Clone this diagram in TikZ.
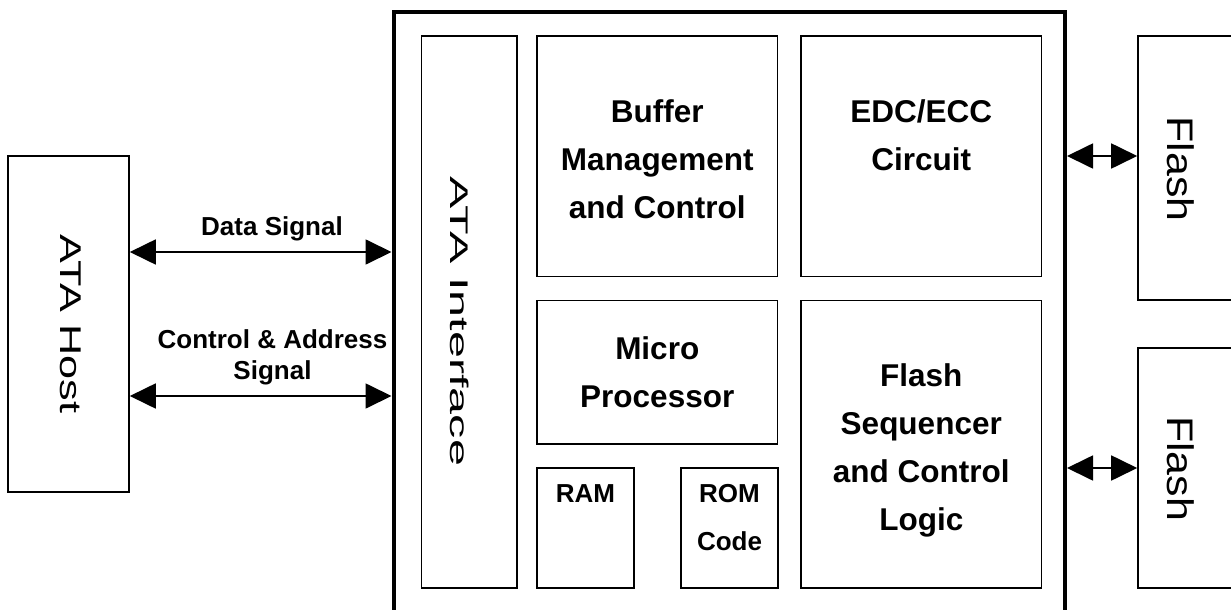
\documentclass[tikz,border=0pt]{standalone}
\usepackage{fontspec}
\usepackage{graphicx}
\setmainfont{Liberation Sans}
\usetikzlibrary{arrows.meta,positioning}

\newcommand\blocktextstyle{\fontsize{31.5}{48}\selectfont\bfseries}
\newcommand\memtextstyle{\fontsize{26}{48}\selectfont\bfseries}
\newcommand\signaltextstyle{\fontsize{26}{31}\selectfont\bfseries}
\newcommand\sidetext[2]{\scalebox{#1}[1]{#2}}

\tikzset{
  blockbox/.style={draw, line width=1.6pt, inner sep=0pt},
  chipbox/.style={draw, line width=4pt, inner sep=0pt},
  blocktext/.style={align=center, inner sep=0pt, font=\blocktextstyle},
  memtext/.style={align=center, inner sep=0pt, font=\memtextstyle},
  signaltext/.style={align=center, inner sep=0pt, font=\signaltextstyle},
  sidelabel/.style={inner sep=0pt, rotate=-90},
  sigarrow/.style={line width=1.8pt, {Triangle[length=26pt,width=25pt]}-{Triangle[length=26pt,width=25pt]}}
}

\begin{document}
\begin{tikzpicture}[x=1pt, y=-1pt]
  \useasboundingbox (0,0) rectangle (1231,610);
  \clip (0,0) rectangle (1231,610);

  \node[blockbox, minimum width=121, minimum height=336] (host) at (68.5,324) {};
  \node[chipbox, minimum width=671.5, minimum height=601.5] (chip) at (729.25,313.25) {};
  \node[blockbox, minimum width=95.5, minimum height=552] (iface) at (469.25,312) {};
  \node[blockbox, minimum width=240.5, minimum height=240.5] (buf) at (657.25,156.25) {};
  \node[blockbox, minimum width=240.5, minimum height=240.5] (edc) at (921.25,156.25) {};
  \node[blockbox, minimum width=240.5, minimum height=143.5] (micro) at (657.25,372.25) {};
  \node[blockbox, minimum width=240.5, minimum height=287.5] (fseq) at (921.25,444.25) {};
  \node[blockbox, minimum width=97, minimum height=120] (ram) at (585.5,528) {};
  \node[blockbox, minimum width=97, minimum height=120] (rom) at (729.5,528) {};
  \node[blockbox, minimum width=152, minimum height=264] (flasha) at (1214,168) {};
  \node[blockbox, minimum width=152, minimum height=240] (flashb) at (1214,468) {};

  \node[sidelabel, font=\fontsize{30}{30}\selectfont] (hosttext) at ([xshift=2.5pt]host.center) {\sidetext{1.44}{ATA Host}};
  \node[sidelabel, font=\fontsize{25.5}{25.5}\selectfont] (ifacetext) at ([xshift=-10pt,yshift=-9.5pt]iface.center) {\sidetext{1.9}{ATA Interface}};
  \node[sidelabel, font=\fontsize{37}{37}\selectfont] (flashatext) at ([xshift=-33.5pt,yshift=-1pt]flasha.center) {\sidetext{1.16}{Flash}};
  \node[sidelabel, font=\fontsize{37}{37}\selectfont] (flashbtext) at ([xshift=-33.5pt,yshift=-0.5pt]flashb.center) {\sidetext{1.16}{Flash}};

  \node[blocktext] (buftext) at ([yshift=-2.5pt]buf.center) {Buffer\\Management\\and Control};
  \node[blocktext] (edctext) at ([yshift=21.5pt]edc.center) {EDC/ECC\\Circuit};
  \node[blocktext] (microtext) at (micro.center) {Micro\\Processor};
  \node[blocktext] (fseqtext) at ([yshift=-6pt]fseq.center) {Flash\\Sequencer\\and Control\\Logic};
  \node[memtext] (ramtext) at ([yshift=34pt]ram.center) {RAM};
  \node[memtext] (romtext) at ([yshift=10pt]rom.center) {ROM\\Code};

  \coordinate (databus) at (0,252);
  \coordinate (ctrlbus) at (0,396);
  \coordinate (flashbus) at (0,156);
  \draw[sigarrow] (host.east |- databus) -- (chip.west |- databus);
  \draw[sigarrow] (host.east |- ctrlbus) -- (chip.west |- ctrlbus);
  \draw[sigarrow] (chip.east |- flashbus) -- (flasha.west |- flashbus);
  \draw[sigarrow] (chip.east |- flashb.west) -- (flashb.west);

  \node[signaltext] (datatext) at (272,229) {Data Signal};
  \node[signaltext] (ctrltext) at (272.5,357) {Control \& Address\\Signal};
\end{tikzpicture}
\end{document}
